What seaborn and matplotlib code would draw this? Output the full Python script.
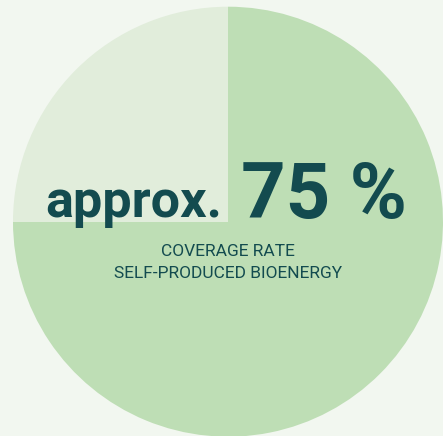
import matplotlib.pyplot as plt
import seaborn as sns

# 自产生物能源覆盖率
shares = [75, 25]
parts = ['self-produced', 'rest']
colors = ['#bedeb5', '#e1eddb']
headline_pre = 'approx.'
headline_val = '75 %'
subtitle = ['COVERAGE RATE', 'SELF-PRODUCED BIOENERGY']

sns.set_theme(style='white')
bg = '#f2f7f0'
ink = '#134b4f'

fig = plt.figure(figsize=(4.43, 4.36), dpi=100, facecolor=bg)
ax = fig.add_axes([0, 0, 1, 1])
ax.set_facecolor(bg)
ax.pie(shares, labels=None, colors=colors, startangle=90, counterclock=False,
       radius=1, wedgeprops=dict(linewidth=0))
ax.set_aspect('auto')
ax.set_xlim(-228 / 215, 215 / 215)
ax.set_ylim(-(436 - 221.7) / 215, 221.7 / 215)
ax.axis('off')

W, H = 443, 436
fig.text(221.7 / W, 1 - 216.7 / H, headline_pre, ha='right', va='baseline',
         fontsize=37.5, fontweight='bold', color=ink, family=['Roboto', 'DejaVu Sans'])
fig.text(240.7 / W, 1 - 218 / H, headline_val, ha='left', va='baseline',
         fontsize=56, fontweight='bold', color=ink, family=['Roboto', 'DejaVu Sans'])
for i, line in enumerate(subtitle):
    fig.text(228 / W, 1 - (256 + 22.3 * i) / H, line, ha='center', va='baseline',
             fontsize=12.5, color=ink, family=['Roboto', 'DejaVu Sans'])

plt.savefig('out.png', dpi=100, facecolor=bg)
